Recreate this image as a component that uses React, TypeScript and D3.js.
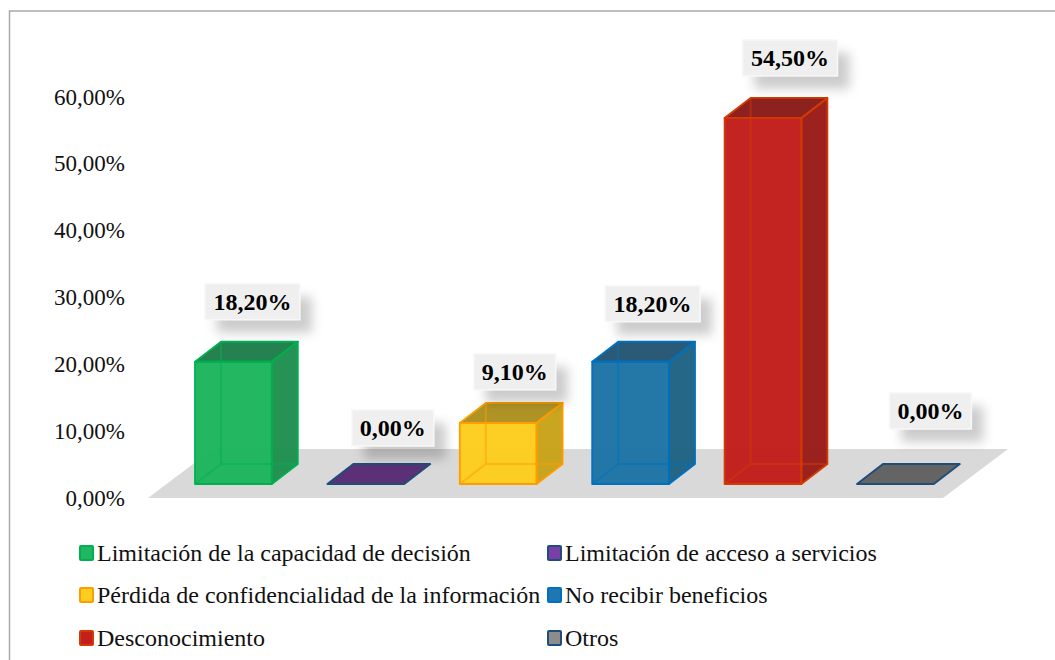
import React from "react";
import * as d3 from "d3";

const categories = [
  "Limitación de la capacidad de decisión",
  "Limitación de acceso a servicios",
  "Pérdida de confidencialidad de la información",
  "No recibir beneficios",
  "Desconocimiento",
  "Otros",
];
const values = [18.2, 0, 9.1, 18.2, 54.5, 0];
const valueLabels = ["18,20%", "0,00%", "9,10%", "18,20%", "54,50%", "0,00%"];
const axisTicks = [0, 10, 20, 30, 40, 50, 60];
const frontColors = ["#1db55d", "#5b3076", "#fdcc1c", "#1c74a4", "#c11d1b", "#646464"];
const sideColors = ["#1d904e", "#5b3076", "#c8a218", "#1d6283", "#991b19", "#646464"];
const topColors = ["#1e7e4a", "#5b3076", "#ad8f1e", "#235571", "#891a18", "#646464"];
const edgeColors = ["#00b050", "#1f4e79", "#ff9d00", "#0070c0", "#d23a00", "#1f4e79"];
const swatchColors = ["#1fb760", "#7a3fa8", "#fdce20", "#1f76b0", "#c21f1d", "#8c8c8c"];
const labelNudgeX = [19, 27, 16.5, 22, 27, 35];
const labelNudgeY = [-60, -56, -51, -58, -60, -73];

const W = 1055;
const H = 660;
const DX = 26;
const DY = -20;
const BASE_Y = 484;
const SERIF = "'Liberation Serif', 'Times New Roman', serif";

const x = d3.scaleBand<number>().domain(d3.range(6)).range([139.4, 989.4]).paddingInner(0.42).paddingOuter(0.42);
const barY = d3.scaleLinear().domain([0, 60]).range([BASE_Y, BASE_Y - 403]);
const axisY = d3.scaleLinear().domain([0, 60]).range([498, 97]);

const poly = (pts: [number, number][]) => {
  const line = d3.line();
  return line(pts) + "Z";
};

function Bar({ i }: { i: number }) {
  const l = x(i)!;
  const r = l + x.bandwidth();
  const b = BASE_Y;
  const t = barY(values[i]);
  const edge = edgeColors[i];
  const front = poly([[l, b], [r, b], [r, t], [l, t]]);
  const side = poly([[r, b], [r + DX, b + DY], [r + DX, t + DY], [r, t]]);
  const top = poly([[l, t], [r, t], [r + DX, t + DY], [l + DX, t + DY]]);
  const hidden = `M${l + DX},${t + DY}V${b + DY}M${l},${b}L${l + DX},${b + DY}H${r + DX}`;
  if (values[i] === 0) {
    return <path d={top} fill={frontColors[i]} stroke={edge} strokeWidth={2} strokeLinejoin="round" />;
  }
  return (
    <g strokeLinejoin="round">
      <path d={side} fill={sideColors[i]} fillOpacity={0.97} />
      <path d={top} fill={topColors[i]} fillOpacity={0.97} />
      <path d={front} fill={frontColors[i]} fillOpacity={0.97} />
      <path d={hidden} fill="none" stroke={edge} strokeWidth={2} strokeOpacity={0.5} />
      <path d={side} fill="none" stroke={edge} strokeWidth={1.8} />
      <path d={top} fill="none" stroke={edge} strokeWidth={1.8} />
      <path d={front} fill="none" stroke={edge} strokeWidth={1.8} />
    </g>
  );
}

function ValueLabel({ i }: { i: number }) {
  const cx = x(i)! + x.bandwidth() / 2 + labelNudgeX[i];
  const cy = barY(values[i]) + labelNudgeY[i];
  const w = valueLabels[i].length === 6 ? 95 : 82;
  const h = 36;
  return (
    <g>
      <rect x={cx - w / 2 + 12} y={cy - h / 2 + 13} width={w} height={h} fill="#000" fillOpacity={0.2} filter="url(#soft)" />
      <rect x={cx - w / 2} y={cy - h / 2} width={w} height={h} fill="#efefef" stroke="#f8f8f8" strokeWidth={1.5} />
      <text x={cx} y={cy} dy="0.33em" textAnchor="middle" fontFamily={SERIF} fontWeight="bold" fontSize={24} fill="#000">
        {valueLabels[i]}
      </text>
    </g>
  );
}

const legendCols = [79, 547];
const legendRows = [553, 595, 638];

export default function App() {
  return (
    <svg
      width={W}
      height={H}
      viewBox={`0 0 ${W} ${H}`}
      style={{ position: "absolute", left: 0, top: 0, background: "#fff" }}
    >
      <defs>
        <filter id="soft" x="-30%" y="-50%" width="160%" height="200%">
          <feGaussianBlur stdDeviation="5.5" />
        </filter>
      </defs>
      <path d={`M9.5,${H}V11H${W}`} fill="none" stroke="#a9a9a9" strokeWidth={1.5} />
      <path d={poly([[148, 498], [943, 498], [1008, 449], [213, 449]])} fill="#dad9da" />
      {axisTicks.map((t) => (
        <text key={t} x={125} y={axisY(t)} dy="0.33em" textAnchor="end" fontFamily={SERIF} fontSize={23} fill="#111">
          {d3.format(".2f")(t).replace(".", ",")}%
        </text>
      ))}
      {values.map((_, i) => <Bar key={i} i={i} />)}
      {values.map((_, i) => <ValueLabel key={i} i={i} />)}
      {categories.map((c, i) => {
        const col = legendCols[i % 2];
        const row = legendRows[Math.floor(i / 2)];
        return (
          <g key={c}>
            <rect x={col + 1} y={row - 7} width={13} height={14} rx={1} fill={swatchColors[i]} stroke={edgeColors[i]} strokeWidth={2} />
            <text x={col + 18} y={row} dy="0.33em" fontFamily={SERIF} fontSize={24} fill="#111">{c}</text>
          </g>
        );
      })}
    </svg>
  );
}
